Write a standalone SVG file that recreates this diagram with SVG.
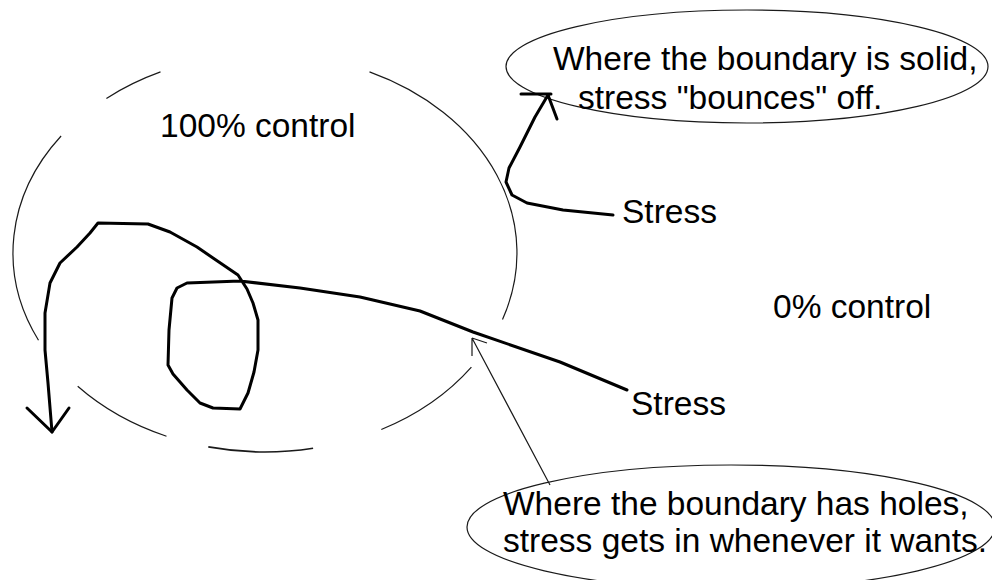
<svg xmlns="http://www.w3.org/2000/svg" width="992" height="580" viewBox="0 0 992 580">
<style>
text{font-family:"Liberation Sans",Arial,sans-serif;font-size:33.5px;fill:#000}
.thin{fill:none;stroke:#1a1a1a;stroke-width:1.2}
.thick{fill:none;stroke:#000;stroke-width:3;stroke-linejoin:round;stroke-linecap:round}
</style>
<rect width="992" height="580" fill="#fff"/>
<g id="boundary">
<path class="thin" d="M38.5,340.2 A252,199 0 0 1 61.1,136.0"/>
<path class="thin" d="M106.4,98.4 A252,199 0 0 1 160.5,71.9"/>
<path class="thin" d="M369.5,71.9 A252,199 0 0 1 502.5,319.4"/>
<path class="thin" d="M471.4,367.1 A252,199 0 0 1 381.3,429.5"/>
<path class="thin" d="M313.1,448.3 A252,199 0 0 1 208.3,446.9" style="stroke-width:1.6"/>
<path class="thin" d="M166.5,436.2 A252,199 0 0 1 77.7,386.2"/>
<text x="160" y="137">100% control</text>
</g>
<g id="outside">
<text x="773" y="318">0% control</text>
</g>
<g id="note-solid">
<ellipse class="thin" cx="747" cy="66.5" rx="241" ry="56.5"/>
<text x="553" y="70">Where the boundary is solid,</text>
<text x="578" y="109">stress "bounces" off.</text>
</g>
<g id="note-holes">
<ellipse class="thin" cx="731" cy="527" rx="264" ry="62"/>
<text x="503" y="515">Where the boundary has holes,</text>
<text x="503" y="552">stress gets in whenever it wants.</text>
</g>
<g id="stress-upper">
<text x="622" y="223">Stress</text>
</g>
<g id="stress-lower">
<text x="631" y="415">Stress</text>
</g>
<g id="connectors">
<path class="thick" d="M613,215 L563,210 L527,203 L512,195 L506,182 L509,168 L520,147 L535,117 L548,95"/>
<path class="thick" d="M521,94 L551,94 M548,95 L557,119"/>
<path class="thick" d="M627,390 L560,362 L473,332 L420,311 L360,297 L300,288 L240,281 L187,283 L177,288 L172,298 L169,330 L168,365 L173,374 L187,390 L200,403 L213,408 L240,409 L248,393 L254,372 L258,350 L258,320 L253,303 L247,289 L238,275 L213,258 L197,247 L170,232 L148,224 L98,223 L90,233 L77,247 L60,263 L50,283 L45,313 L45,350 L48,383 L52,432"/>
<path class="thick" d="M27,408 L52,432 L69,408"/>
<path class="thin" d="M550,485 L472,338 M472,338 L472,356 M472,338 L487,343"/>
</g>
</svg>
